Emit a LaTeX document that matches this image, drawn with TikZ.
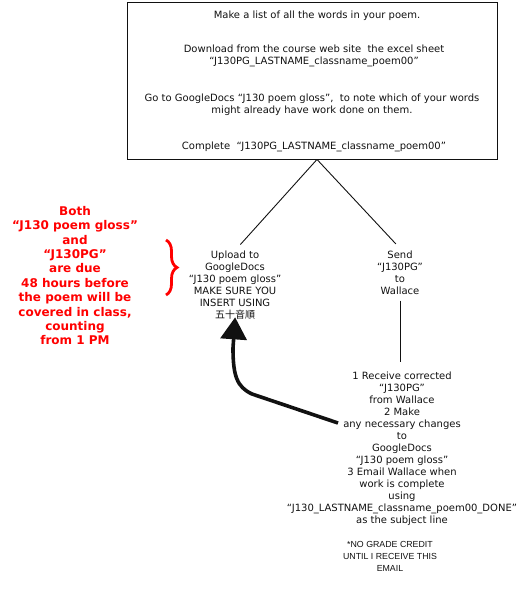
\documentclass[tikz,border=0pt]{standalone}
\usepackage{fontspec}
\setmainfont{DejaVu Sans}
\newfontfamily\cjk{Noto Sans CJK JP}
\newfontfamily\notefont{Liberation Sans}
\usetikzlibrary{arrows.meta,decorations.pathreplacing}
\definecolor{duered}{RGB}{255,0,0}
\definecolor{ink}{RGB}{17,17,17}
\tikzset{
  txt/.style={inner sep=0pt, align=center, anchor=north, text=ink,
    font=\fontsize{10}{12}\selectfont},
  redtxt/.style={inner sep=0pt, align=center, anchor=north, text=duered,
    font=\fontsize{12}{14.4}\selectfont\bfseries},
  notetxt/.style={inner sep=0pt, align=center, anchor=north, text=ink,
    font=\notefont\fontsize{8.8}{12}\selectfont},
  thin/.style={draw=ink, line width=0.9pt},
  bigarrow/.style={draw=ink, line width=3.6pt,
    -{Triangle[width=26pt,length=22pt]}},
}
\begin{document}
\begin{tikzpicture}[x=1pt,y=-1pt]
\useasboundingbox (0,0) rectangle (530,600);
% top box
\node[draw=ink, line width=0.9pt, minimum width=370pt, minimum height=157pt, inner sep=0pt] (box) at (312,80.5) {};
\node[txt] (t1) at (317,10.5) {Make a list of all the words in your poem.};
\node[txt] (t2) at (314,44.5) {Download from the course web site\ \ the excel sheet\\“J130PG\_LASTNAME\_classname\_poem00”};
\node[txt] (t3) at (312,93.5) {Go to GoogleDocs “J130 poem gloss”,\ \ to note which of your words\\might already have work done on them.};
\node[txt] (t4) at (314,141.5) {Complete\ \ “J130PG\_LASTNAME\_classname\_poem00”};
% branches
\node[txt] (upload) at (235,250.5) {Upload to\\GoogleDocs\\“J130 poem gloss”\\MAKE SURE YOU\\INSERT USING\\{\cjk 五十音順}};
\node[txt] (send) at (400,250.5) {Send\\“J130PG”\\to\\Wallace};
\draw[thin, shorten >=8pt] ([xshift=5pt]box.south) -- (upload.north);
\draw[thin, shorten >=9pt] ([xshift=5pt]box.south) -- ([xshift=2pt]send.north);
% bottom
\node[txt] (bot) at (402,371.5) {1 Receive corrected\\“J130PG”\\from Wallace\\2 Make\\any necessary changes\\to\\GoogleDocs\\“J130 poem gloss”\\3 Email Wallace when\\work is complete\\using\\“J130\_LASTNAME\_classname\_poem00\_DONE”\\as the subject line};
\node[notetxt] (note) at (390,541.5) {*NO GRADE CREDIT\\UNTIL I RECEIVE THIS\\EMAIL};
\draw[thin, shorten <=6pt, shorten >=10pt] (send.south) -- (send.south |- bot.north);
% red note
\node[redtxt] (due) at (75,206) {Both\\“J130 poem gloss”\\and\\“J130PG”\\are due\\48 hours before\\the poem will be\\covered in class,\\counting\\from 1 PM};
\draw[draw=duered, line width=2.8pt, decorate, decoration={brace, amplitude=11pt}] (166,240) -- (166,295);
% thick arrow
\coordinate (astart) at (338,423);
\draw[bigarrow, shorten >=-2pt] (astart) -- (252,394) .. controls (237,387) and (233,376) .. (233,348) -- (upload.south);
\end{tikzpicture}
\end{document}
